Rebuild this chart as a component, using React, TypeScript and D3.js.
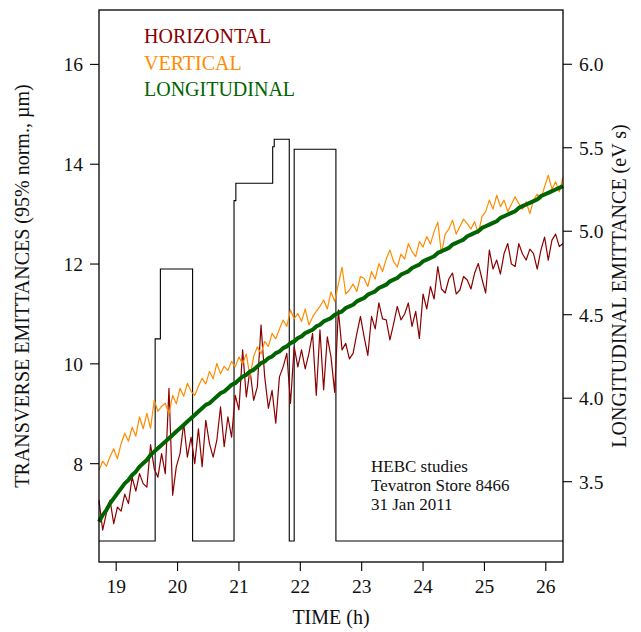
import React from 'react'
import { scaleLinear, line, curveStepAfter } from 'd3'

// samples every 0.06 h starting at 18.72 h
const sampleStart = 18.72
const sampleStep = 0.06

const horizontal = [
  7.27, 6.67, 7.01, 7.27, 6.80, 7.13, 7.05, 7.39, 7.20, 7.73,
  7.45, 7.80, 7.60, 7.53, 8.38, 7.90, 7.73, 8.20, 7.80, 9.51,
  7.37, 7.94, 8.20, 8.81, 8.13, 8.53, 8.00, 8.70, 7.94, 8.87,
  8.40, 8.13, 8.47, 9.14, 8.34, 8.94, 8.53, 9.37, 9.08, 10.28,
  9.34, 9.88, 9.27, 9.54, 10.78, 9.74, 9.11, 9.47, 8.81, 9.74,
  9.94, 10.21, 9.21, 10.34, 9.94, 10.28, 9.90, 10.21, 10.61, 9.37,
  10.68, 9.48, 10.54, 10.14, 9.43, 11.08, 10.28, 10.41, 10.10, 10.21,
  10.60, 10.95, 10.54, 10.17, 10.95, 10.70, 11.22, 10.90, 10.88, 10.48,
  10.80, 11.15, 10.88, 11.00, 11.22, 10.75, 11.05, 10.51, 11.40, 11.10,
  11.55, 11.30, 11.95, 11.50, 11.42, 11.70, 11.82, 11.40, 11.48, 11.75,
  11.68, 11.50, 11.82, 12.01, 11.70, 11.42, 12.28, 11.90, 12.08, 11.80,
  12.21, 12.41, 12.00, 11.95, 12.41, 12.20, 12.08, 12.30, 12.21, 11.90,
  12.28, 12.54, 12.08, 12.48, 12.60, 12.35, 12.41
]

const vertical = [
  7.87, 8.05, 7.95, 8.14, 8.30, 8.10, 8.40, 8.61, 8.45, 8.73,
  8.55, 8.94, 8.70, 9.01, 8.71, 9.27, 9.05, 9.15, 9.21, 9.00,
  9.37, 9.20, 9.51, 9.35, 9.61, 9.45, 9.37, 9.55, 9.71, 9.60,
  9.85, 9.70, 10.01, 9.80, 9.95, 9.87, 10.05, 9.94, 10.14, 10.00,
  10.20, 9.74, 10.15, 10.34, 10.20, 10.45, 10.35, 10.61, 10.50, 10.70,
  10.88, 10.75, 11.08, 10.90, 11.01, 10.85, 11.10, 10.78, 10.94, 11.05,
  11.15, 11.28, 11.10, 11.44, 11.25, 11.60, 11.94, 11.40, 11.48, 11.60,
  11.45, 11.75, 11.71, 11.55, 11.85, 11.70, 12.01, 11.85, 12.10, 12.28,
  12.05, 11.94, 12.20, 12.10, 12.41, 12.25, 12.15, 12.45, 12.34, 12.55,
  12.40, 12.65, 12.84, 12.21, 12.60, 12.70, 12.88, 12.60, 12.75, 12.90,
  12.81, 12.70, 12.85, 12.61, 12.95, 13.05, 13.28, 13.10, 13.38, 13.15,
  13.28, 13.05, 13.20, 13.35, 13.21, 13.10, 13.25, 13.01, 13.28, 13.40,
  13.30, 13.55, 13.78, 13.50, 13.65, 13.45, 13.74
]

// eV s, right axis
const longitudinal = [
  3.26, 3.30, 3.33, 3.37, 3.40, 3.43, 3.46, 3.49, 3.51, 3.54,
  3.56, 3.59, 3.61, 3.63, 3.66, 3.68, 3.70, 3.72, 3.74, 3.76,
  3.78, 3.80, 3.82, 3.84, 3.86, 3.88, 3.90, 3.92, 3.94, 3.96,
  3.97, 3.99, 4.01, 4.03, 4.04, 4.06, 4.08, 4.09, 4.11, 4.13,
  4.14, 4.16, 4.17, 4.19, 4.21, 4.22, 4.24, 4.25, 4.27, 4.28,
  4.30, 4.31, 4.33, 4.34, 4.36, 4.37, 4.39, 4.40, 4.41, 4.43,
  4.44, 4.46, 4.47, 4.48, 4.50, 4.51, 4.52, 4.54, 4.55, 4.56,
  4.58, 4.59, 4.60, 4.62, 4.63, 4.64, 4.66, 4.67, 4.68, 4.70,
  4.71, 4.72, 4.74, 4.75, 4.76, 4.78, 4.79, 4.80, 4.82, 4.83,
  4.84, 4.85, 4.87, 4.88, 4.89, 4.90, 4.92, 4.93, 4.94, 4.95,
  4.97, 4.98, 4.99, 5.00, 5.02, 5.03, 5.04, 5.05, 5.06, 5.08,
  5.09, 5.10, 5.11, 5.12, 5.14, 5.15, 5.16, 5.17, 5.18, 5.19,
  5.21, 5.22, 5.23, 5.24, 5.25, 5.26, 5.27
]

// store status trace (drawn in left-axis units)
const stepTimes = [18.72, 19.635, 19.72, 20.245, 20.92, 20.95, 21.55, 21.575, 21.82, 21.9, 22.58, 26.28]
const stepLevels = [6.45, 10.5, 11.9, 6.45, 13.27, 13.62, 14.35, 14.5, 6.45, 14.3, 6.45, 6.45]

const xTicks = [19, 20, 21, 22, 23, 24, 25, 26]
const leftTicks = [8, 10, 12, 14, 16]
const rightTicks = [3.5, 4.0, 4.5, 5.0, 5.5, 6.0]

const legendNames = ['HORIZONTAL', 'VERTICAL', 'LONGITUDINAL']
const legendColors = ['#8b0000', '#ff8c00', '#006400']
const noteLines = ['HEBC studies', 'Tevatron Store 8466', '31 Jan 2011']

const font = '"Liberation Serif", "Times New Roman", serif'

export default function App() {
  const margin = { top: 10, right: 78, bottom: 70, left: 99 }
  const W = 641
  const H = 632
  const x0 = margin.left
  const x1 = W - margin.right
  const y0 = margin.top
  const y1 = H - margin.bottom

  const x = scaleLinear().domain([18.72, 26.28]).range([x0, x1])
  const yL = scaleLinear().domain([6.03, 17.09]).range([y1, y0])
  const yR = scaleLinear().domain([3.019, 6.325]).range([y1, y0])

  const t = (i: number) => sampleStart + i * sampleStep

  const leftLine = line<number>().x((d, i) => x(t(i))).y(d => yL(d))
  const rightLine = line<number>().x((d, i) => x(t(i))).y(d => yR(d))
  const stepLine = line<number>()
    .x((d, i) => x(stepTimes[i]))
    .y(d => yL(d))
    .curve(curveStepAfter)

  const midY = (y0 + y1) / 2

  return (
    <svg width={W} height={H} style={{ position: 'absolute', left: 0, top: 0, background: 'white' }} fontFamily={font}>
      <path d={stepLine(stepLevels) || ''} fill="none" stroke="#000" strokeWidth={1.1} />
      <path d={leftLine(horizontal) || ''} fill="none" stroke={legendColors[0]} strokeWidth={1.2} strokeLinejoin="round" />
      <path d={leftLine(vertical) || ''} fill="none" stroke={legendColors[1]} strokeWidth={1.2} strokeLinejoin="round" />
      <path d={rightLine(longitudinal) || ''} fill="none" stroke={legendColors[2]} strokeWidth={4} strokeLinejoin="round" />

      <rect x={x0} y={y0} width={x1 - x0} height={y1 - y0} fill="none" stroke="#000" strokeWidth={1.3} />

      {xTicks.map(v => (
        <g key={v}>
          <line x1={x(v)} x2={x(v)} y1={y1} y2={y1 + 9} stroke="#000" strokeWidth={1.1} />
          <text x={x(v)} y={y1 + 31} fontSize={19.5} textAnchor="middle" fill="#111">{v}</text>
        </g>
      ))}
      {leftTicks.map(v => (
        <g key={v}>
          <line x1={x0 - 9} x2={x0} y1={yL(v)} y2={yL(v)} stroke="#000" strokeWidth={1.1} />
          <text x={x0 - 16} y={yL(v) + 7} fontSize={19.5} textAnchor="end" fill="#111">{v}</text>
        </g>
      ))}
      {rightTicks.map(v => (
        <g key={v}>
          <line x1={x1} x2={x1 + 9} y1={yR(v)} y2={yR(v)} stroke="#000" strokeWidth={1.1} />
          <text x={x1 + 16} y={yR(v) + 7} fontSize={19.5} textAnchor="start" fill="#111">{v.toFixed(1)}</text>
        </g>
      ))}

      <text x={(x0 + x1) / 2} y={624} fontSize={20} textAnchor="middle" fill="#111">TIME (h)</text>
      <text transform={`translate(29,${midY}) rotate(-90)`} fontSize={20} textAnchor="middle" fill="#111">
        TRANSVERSE EMITTANCES (95% norm., µm)
      </text>
      <text transform={`translate(626,${midY}) rotate(-90)`} fontSize={20} textAnchor="middle" fill="#111">
        LONGITUDINAL EMITTANCE (eV s)
      </text>

      {legendNames.map((name, i) => (
        <text key={name} x={144} y={43 + i * 26.7} fontSize={20} fill={legendColors[i]}>{name}</text>
      ))}

      {noteLines.map((s, i) => (
        <text key={s} x={371} y={472 + i * 19} fontSize={17} fill="#111">{s}</text>
      ))}
    </svg>
  )
}
